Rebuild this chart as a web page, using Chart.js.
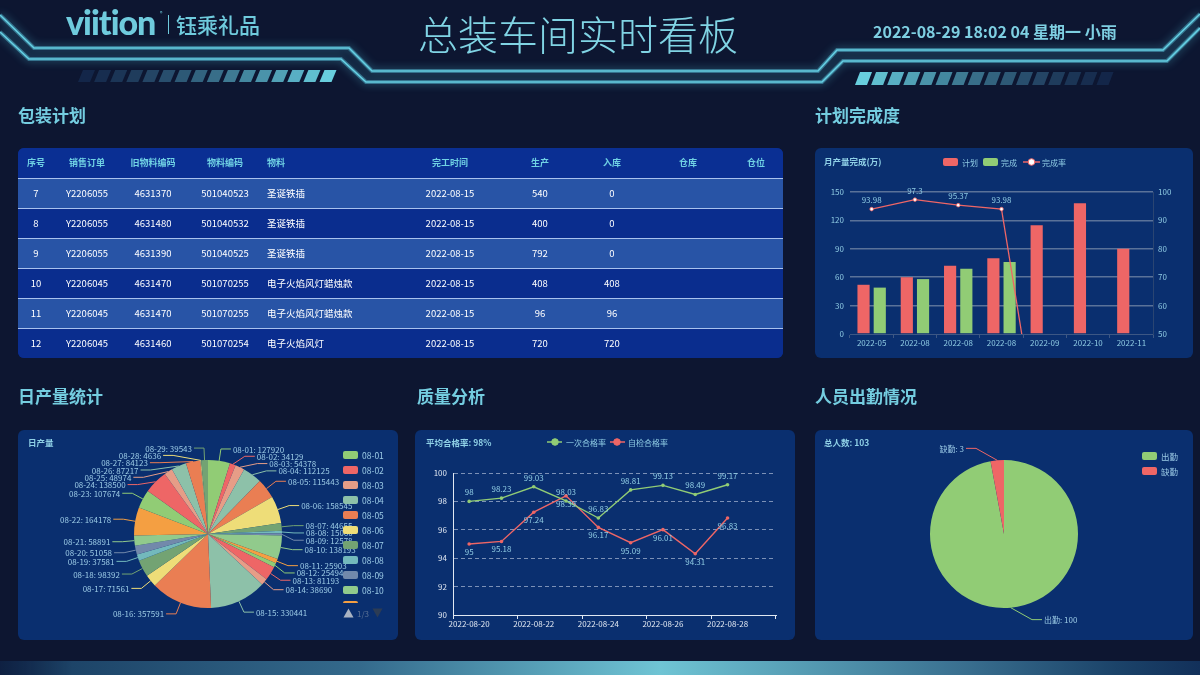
<!DOCTYPE html>
<html lang="zh-CN">
<head>
<meta charset="utf-8">
<title>总装车间实时看板</title>
<script src="https://cdn.jsdelivr.net/npm/chart.js@4.4.1/dist/chart.umd.min.js"></script>
<style>
html,body{margin:0;padding:0;background:#0d1631;}
#root{position:relative;width:1200px;height:675px;overflow:hidden;background:#0d1631;font-family:"Noto Sans CJK SC","Noto Sans",sans-serif;}
#deco{position:absolute;left:0;top:0;}
.txt{position:absolute;white-space:nowrap;}
.sec{position:absolute;white-space:nowrap;color:#74cde0;font-weight:bold;font-size:17px;line-height:17px;}
.ptitle{position:absolute;white-space:nowrap;color:#8fd0e6;font-weight:bold;font-size:8.5px;line-height:9px;}
.panel{position:absolute;background:#0a2f6f;border-radius:6px;overflow:hidden;}
.panel canvas{position:absolute;left:0;top:0;}
#table{background:#0a2d8e;}
.trow{position:absolute;left:0;width:100%;height:30px;}
.cell{position:absolute;top:0;height:30px;line-height:30px;font-size:9.5px;color:#ffffff;white-space:nowrap;}
.hcell{color:#70d2e4;font-weight:bold;font-size:9px;}
.sep{position:absolute;left:0;width:100%;height:1px;background:#a9c2ee;}
</style>
</head>
<body>
<div id="root">
  <canvas id="deco" width="1200" height="675"></canvas>
  <div class="txt" style="left:66px;top:5px;font-family:Lato,'Noto Sans',sans-serif;font-weight:900;font-size:34px;line-height:34px;color:#6fcbdd;letter-spacing:-1px;">viition</div>
  <div class="txt" style="left:160px;top:10px;font-size:5px;line-height:5px;color:#6fcbdd;">®</div>
  <div class="txt" style="left:168px;top:15px;width:1px;height:19px;background:#6fcbdd;"></div>
  <div class="txt" style="left:176px;top:14px;font-size:21px;line-height:21px;color:#6fcbdd;font-weight:500;">钰乘礼品</div>
  <div class="txt" style="left:418px;top:13px;font-size:40px;line-height:40px;color:#80d4e4;font-weight:300;">总装车间实时看板</div>
  <div class="txt" style="left:873px;top:23px;font-size:16px;line-height:16px;color:#7ecfe2;font-weight:bold;">2022-08-29 18:02 04 星期一 小雨</div>

  <div class="sec" style="left:18px;top:106px;">包装计划</div>
  <div class="sec" style="left:815px;top:106px;">计划完成度</div>
  <div class="sec" style="left:18px;top:387px;">日产量统计</div>
  <div class="sec" style="left:417px;top:387px;">质量分析</div>
  <div class="sec" style="left:815px;top:387px;">人员出勤情况</div>

  <div class="panel" id="table" style="left:18px;top:148px;width:765px;height:210px;"></div>

  <div class="panel" style="left:815px;top:148px;width:378px;height:210px;">
    <canvas id="barChart" width="378" height="210"></canvas>
    <div class="ptitle" style="left:9px;top:9px;">月产量完成(万)</div>
  </div>

  <div class="panel" style="left:18px;top:430px;width:380px;height:210px;">
    <canvas id="dayPie" width="380" height="210"></canvas>
    <div class="ptitle" style="left:10px;top:8px;">日产量</div>
  </div>

  <div class="panel" style="left:415px;top:430px;width:380px;height:210px;">
    <canvas id="qcLine" width="380" height="210"></canvas>
    <div class="ptitle" style="left:11px;top:8px;">平均合格率: 98%</div>
  </div>

  <div class="panel" style="left:815px;top:430px;width:378px;height:210px;">
    <canvas id="staffPie" width="378" height="210"></canvas>
    <div class="ptitle" style="left:9px;top:8px;">总人数: 103</div>
  </div>
</div>

<script>
// ================= DATA =================
const tableHeaders = ['序号','销售订单','旧物料编码','物料编码','物料','完工时间','生产','入库','仓库','仓位'];
const rowNo = [7, 8, 9, 10, 11, 12];
const salesOrders = ['Y2206055','Y2206055','Y2206055','Y2206045','Y2206045','Y2206045'];
const oldCodes = ['4631370','4631480','4631390','4631470','4631470','4631460'];
const materialCodes = ['501040523','501040532','501040525','501070255','501070255','501070254'];
const materialNames = ['圣诞铁插','圣诞铁插','圣诞铁插','电子火焰风灯蜡烛款','电子火焰风灯蜡烛款','电子火焰风灯'];
const finishDates = ['2022-08-15','2022-08-15','2022-08-15','2022-08-15','2022-08-15','2022-08-15'];
const producedQty = [540, 400, 792, 408, 96, 720];
const stockedQty = [0, 0, 0, 408, 96, 720];
const warehouses = ['', '', '', '', '', ''];
const binLocations = ['', '', '', '', '', ''];

const monthLabels = ['2022-05','2022-08','2022-08','2022-08','2022-09','2022-10','2022-11'];
const planValues = [52, 60, 72, 80, 115, 138, 90];
const doneValues = [49, 58, 69, 76, 0, 0, 0];
const rateValues = [93.98, 97.3, 95.37, 93.98, 0, 0, 0];

const dayLabels = ['08-01','08-02','08-03','08-04','08-05','08-06','08-07','08-08','08-09','08-10',
  '08-11','08-12','08-13','08-14','08-15','08-16','08-17','08-18','08-19','08-20',
  '08-21','08-22','08-23','08-24','08-25','08-26','08-27','08-28','08-29'];
const dayValues = [127920, 34129, 54378, 112125, 115443, 158545, 44655, 15060, 12578, 138193,
  25903, 25494, 81193, 38690, 330441, 357591, 71561, 98392, 37581, 51058,
  58891, 164178, 107674, 138500, 48974, 87217, 84123, 4636, 39543];

const qcDates = ['2022-08-20','2022-08-21','2022-08-22','2022-08-23','2022-08-24',
  '2022-08-25','2022-08-26','2022-08-27','2022-08-28','2022-08-29'];
const firstPassRate = [98, 98.23, 99.03, 98.03, 96.83, 98.81, 99.13, 98.49, 99.17, null];
const selfCheckRate = [95, 95.18, 97.24, 98.39, 96.17, 95.09, 96.01, 94.31, 96.83, null];

const staffLabels = ['出勤', '缺勤'];
const staffValues = [100, 3];

// ================= STYLE =================
const FONT = '"Noto Sans CJK SC","Noto Sans",sans-serif';
const palette = ['#91cc75','#ee6666','#e69d87','#8dc1a9','#ea7e53','#eedd78','#73a373','#73b9bc','#7289ab','#91ca8c','#f49f42'];
const LABEL_BLUE = '#8fcbe3';
const AXIS_WHITE = '#e1e8f2';

Chart.defaults.font.family = FONT;
Chart.defaults.animation = false;
Chart.defaults.responsive = false;
Chart.defaults.devicePixelRatio = 1;
Chart.defaults.events = [];
Chart.defaults.plugins.legend.display = false;
Chart.defaults.plugins.tooltip.enabled = false;

// ================= DECORATION =================
(function drawDeco() {
  const c = document.getElementById('deco').getContext('2d');
  const upper = [[0,15],[34,48],[349,48],[372,71],[818,71],[837,50],[1163,50],[1200,14]];
  const lower = [[0,32],[29,59],[341,59],[366,82],[822,82],[843,61],[1167,61],[1200,28]];
  function poly(pts) { c.beginPath(); pts.forEach((p,i)=> i? c.lineTo(p[0],p[1]) : c.moveTo(p[0],p[1])); }
  [upper, lower].forEach(pts => {
    c.save();
    c.shadowColor = 'rgba(90,210,235,0.9)'; c.shadowBlur = 8;
    c.strokeStyle = 'rgba(90,200,225,0.45)'; c.lineWidth = 4; poly(pts); c.stroke();
    c.restore();
    c.save();
    c.strokeStyle = '#66d0e4'; c.lineWidth = 1.6; poly(pts); c.stroke();
    c.restore();
  });
  function stripes(x0, y0, y1, n, pitch, w, skew, bright) {
    for (let i = 0; i < n; i++) {
      const t = bright === 'right' ? i/(n-1) : 1 - i/(n-1);
      const r = Math.round(26 + t*(104-26)), g = Math.round(52 + t*(206-52)), b = Math.round(92 + t*(222-92));
      c.fillStyle = `rgba(${r},${g},${b},${0.55 + 0.45*t})`;
      const x = x0 + i*pitch;
      c.beginPath();
      c.moveTo(x + skew, y0); c.lineTo(x + skew + w, y0); c.lineTo(x + w, y1); c.lineTo(x, y1); c.closePath();
      c.fill();
    }
  }
  stripes(78, 70, 82, 16, 16.1, 12, 5, 'right');
  stripes(855, 72, 85, 16, 16.1, 12, 5, 'left');
  const g = c.createLinearGradient(0, 0, 1200, 0);
  g.addColorStop(0, 'rgba(16,40,78,0.6)');
  g.addColorStop(0.06, '#1d4468');
  g.addColorStop(0.3, '#346a8c');
  g.addColorStop(0.55, '#6fc4d4');
  g.addColorStop(0.8, '#3a7090');
  g.addColorStop(0.93, '#1b4369');
  g.addColorStop(1, '#12305a');
  c.fillStyle = g;
  c.fillRect(0, 661, 1200, 14);
})();

// ================= TABLE =================
(function buildTable() {
  const tbl = document.getElementById('table');
  const colLayout = [{c:18},{c:69},{c:135},{c:207},{l:249},{c:432},{c:522},{c:594},{c:670},{c:738}];
  const columns = [rowNo, salesOrders, oldCodes, materialCodes, materialNames, finishDates, producedQty, stockedQty, warehouses, binLocations];
  function addCell(row, text, lay, cls) {
    const d = document.createElement('div');
    d.className = 'cell' + (cls ? ' ' + cls : '');
    d.textContent = text;
    if (lay.c !== undefined) { d.style.left = (lay.c - 60) + 'px'; d.style.width = '120px'; d.style.textAlign = 'center'; }
    else { d.style.left = lay.l + 'px'; }
    row.appendChild(d);
  }
  const head = document.createElement('div');
  head.className = 'trow'; head.style.top = '0px'; head.style.background = '#0a2f93';
  tableHeaders.forEach((h, i) => addCell(head, h, colLayout[i], 'hcell'));
  tbl.appendChild(head);
  rowNo.forEach((_, r) => {
    const row = document.createElement('div');
    row.className = 'trow';
    row.style.top = (30 + r*30) + 'px';
    row.style.background = r % 2 === 0 ? '#2854a6' : '#0a2d8e';
    columns.forEach((col, i) => addCell(row, String(col[r]), colLayout[i]));
    tbl.appendChild(row);
  });
  for (let k = 0; k <= rowNo.length; k++) {
    const s = document.createElement('div');
    s.className = 'sep'; s.style.top = (29.5 + k*30) + 'px';
    tbl.appendChild(s);
  }
})();

// ================= PLUGINS =================
const valueLabelPlugin = {
  id: 'valueLabels',
  afterDatasetsDraw(chart) {
    const ctx = chart.ctx, area = chart.chartArea;
    chart.data.datasets.forEach((ds, di) => {
      const cfg = ds.valueLabel; if (!cfg) return;
      const meta = chart.getDatasetMeta(di);
      ctx.save();
      ctx.font = '8px ' + FONT; ctx.fillStyle = cfg.color;
      ctx.textAlign = 'center'; ctx.textBaseline = 'middle';
      meta.data.forEach((el, i) => {
        const v = ds.data[i];
        if (v === null || v === undefined) return;
        if (el.y < area.top - 1 || el.y > area.bottom + 1) return;
        const y = cfg.side === 'bottom' ? el.y + cfg.offset : el.y - cfg.offset;
        ctx.fillText(String(v), el.x, y);
      });
      ctx.restore();
    });
  }
};

function makeLegend(cfg) {
  return {
    id: 'customLegend',
    afterDraw(chart) {
      const ctx = chart.ctx;
      ctx.save();
      if (cfg.clipBottom) { ctx.beginPath(); ctx.rect(0, 0, chart.width, cfg.clipBottom); ctx.clip(); }
      ctx.font = cfg.fontSize + 'px ' + FONT;
      ctx.textBaseline = 'middle'; ctx.textAlign = 'left';
      cfg.items.forEach(it => {
        const y = it.y;
        if (it.type === 'rect') {
          ctx.fillStyle = it.color;
          ctx.beginPath(); ctx.roundRect(it.x, y - 4, 15, 8, 2); ctx.fill();
        } else {
          ctx.strokeStyle = it.color; ctx.lineWidth = 1.5;
          ctx.beginPath(); ctx.moveTo(it.x, y); ctx.lineTo(it.x + it.w, y); ctx.stroke();
          ctx.beginPath(); ctx.arc(it.cx, y, 3.3, 0, Math.PI*2);
          ctx.fillStyle = it.fill; ctx.fill();
          ctx.lineWidth = 1; ctx.strokeStyle = it.color; ctx.stroke();
        }
        if (!cfg.clipBottom || y + 3 < cfg.clipBottom) {
          ctx.fillStyle = cfg.textColor;
          ctx.fillText(it.text, it.tx, y + 0.5);
        }
      });
      ctx.restore();
      if (cfg.pager) {
        const p = cfg.pager;
        ctx.save();
        ctx.fillStyle = '#a9b3c2';
        ctx.beginPath(); ctx.moveTo(p.upX, p.y - 4.5); ctx.lineTo(p.upX + 5, p.y + 4.5); ctx.lineTo(p.upX - 5, p.y + 4.5); ctx.closePath(); ctx.fill();
        ctx.fillStyle = '#2c3c55';
        ctx.beginPath(); ctx.moveTo(p.downX - 5, p.y - 4.5); ctx.lineTo(p.downX + 5, p.y - 4.5); ctx.lineTo(p.downX, p.y + 4.5); ctx.closePath(); ctx.fill();
        ctx.fillStyle = '#5f7596'; ctx.font = '8px ' + FONT; ctx.textAlign = 'center'; ctx.textBaseline = 'middle';
        ctx.fillText(p.text, (p.upX + p.downX)/2, p.y + 0.5);
        ctx.restore();
      }
    }
  };
}

function makePieLabels(cfg) {
  return {
    id: 'pieLabels',
    afterDatasetsDraw(chart) {
      const ctx = chart.ctx;
      const meta = chart.getDatasetMeta(0);
      const ds = chart.data.datasets[0];
      const items = [];
      meta.data.forEach((arc, i) => {
        const a = (arc.startAngle + arc.endAngle) / 2;
        const r = arc.outerRadius, cx = arc.x, cy = arc.y;
        const cos = Math.cos(a), sin = Math.sin(a);
        const dir = cos < 0 ? -1 : 1;
        const R = r + cfg.len;
        items.push({
          i, cx, cy, r, dir,
          sx: cx + r*cos, sy: cy + r*sin,
          ex: cx + R*cos, y: cy + R*sin,
          color: ds.backgroundColor[i % ds.backgroundColor.length],
          text: chart.data.labels[i] + ': ' + ds.data[i]
        });
      });
      if (!items.length) return;
      const cx = items[0].cx, cy = items[0].cy, r = items[0].r;
      [-1, 1].forEach(dir => {
        const list = items.filter(it => it.dir === dir).sort((p, q) => p.y - q.y);
        if (list.length < 2) return;
        let shifted = false, last = -Infinity;
        list.forEach(it => { if (it.y < last + cfg.h) { it.y = last + cfg.h; shifted = true; } last = it.y; });
        const bottom = chart.height - 4;
        if (list[list.length - 1].y > bottom) {
          let lim = bottom;
          for (let k = list.length - 1; k >= 0; k--) { if (list[k].y > lim) { list[k].y = lim; } lim = list[k].y - cfg.h; }
          shifted = true;
        }
        if (!shifted) return;
        const rA = r + cfg.len;
        const semis = [{list: [], maxY: 0, rB: rA}, {list: [], maxY: 0, rB: rA}];
        list.forEach(it => {
          const semi = it.y > cy ? semis[1] : semis[0];
          const dy = Math.abs(it.y - cy);
          if (dy >= semi.maxY) {
            const dx = it.ex - cx;
            semi.rB = Math.abs(dx) < rA ? Math.sqrt(dy*dy / (1 - dx*dx/(rA*rA))) : rA;
            semi.maxY = dy;
          }
          semi.list.push(it);
        });
        semis.forEach(semi => semi.list.forEach(it => {
          const dy = Math.abs(it.y - cy);
          const t = 1 - dy*dy/(semi.rB*semi.rB);
          it.ex = cx + Math.sqrt(Math.max(0, t)) * rA * dir;
        }));
      });
      ctx.save();
      ctx.font = cfg.fontSize + 'px ' + FONT;
      ctx.textBaseline = 'middle';
      items.forEach(it => {
        let ex = it.ex;
        if (cfg.minDx && Math.abs(ex - it.cx) < cfg.minDx) ex = it.cx + it.dir * cfg.minDx;
        const endX = ex + it.dir * cfg.len2;
        ctx.strokeStyle = it.color; ctx.lineWidth = 1;
        ctx.beginPath(); ctx.moveTo(it.sx, it.sy); ctx.lineTo(ex, it.y); ctx.lineTo(endX, it.y); ctx.stroke();
        ctx.fillStyle = cfg.color;
        ctx.textAlign = it.dir > 0 ? 'left' : 'right';
        ctx.fillText(it.text, endX + it.dir * 2, it.y + 0.5);
      });
      ctx.restore();
    }
  };
}

// ================= BAR + LINE (计划完成度) =================
new Chart(document.getElementById('barChart'), {
  data: {
    labels: monthLabels,
    datasets: [
      { type: 'line', label: '完成率', data: rateValues, yAxisID: 'y1', order: 0,
        borderColor: '#ee6666', borderWidth: 1.3, tension: 0,
        pointRadius: 1.8, pointBackgroundColor: '#ffffff', pointBorderColor: '#ee6666', pointBorderWidth: 0.8,
        valueLabel: { side: 'top', offset: 9, color: LABEL_BLUE } },
      { type: 'bar', label: '计划', data: planValues, yAxisID: 'y', order: 1,
        backgroundColor: '#ee6666', categoryPercentage: 0.75, barPercentage: 0.75 },
      { type: 'bar', label: '完成', data: doneValues, yAxisID: 'y', order: 1,
        backgroundColor: '#91cc75', categoryPercentage: 0.75, barPercentage: 0.75 }
    ]
  },
  options: {
    layout: { padding: { top: 44, right: 0, left: 0, bottom: 0 } },
    scales: {
      x: { type: 'category', offset: true,
        grid: { drawOnChartArea: false, drawTicks: true, tickLength: 4, tickColor: '#3d5784', offset: true },
        border: { display: true, color: '#3d5784' },
        ticks: { color: LABEL_BLUE, font: { size: 8 }, padding: 0, autoSkip: false, maxRotation: 0 },
        afterFit: s => { s.height = 24; } },
      y: { position: 'left', min: 0, max: 150,
        ticks: { stepSize: 30, color: LABEL_BLUE, font: { size: 8 }, padding: 6 },
        grid: { color: c => (c.tick && c.tick.value === 0) ? 'rgba(0,0,0,0)' : '#5a7299', lineWidth: 1.5, drawTicks: false },
        border: { display: false },
        afterFit: s => { s.width = 35; } },
      y1: { position: 'right', min: 50, max: 100,
        ticks: { stepSize: 10, color: LABEL_BLUE, font: { size: 8 }, padding: 5 },
        grid: { drawOnChartArea: false, drawTicks: false },
        border: { display: true, color: '#2a4572' },
        afterFit: s => { s.width = 40; } }
    }
  },
  plugins: [valueLabelPlugin, makeLegend({
    fontSize: 8, textColor: LABEL_BLUE,
    items: [
      { type: 'rect', x: 128, y: 14, color: '#ee6666', text: '计划', tx: 147 },
      { type: 'rect', x: 168, y: 14, color: '#91cc75', text: '完成', tx: 186 },
      { type: 'line', x: 208, w: 17, cx: 216.5, y: 14, color: '#ee6666', fill: '#ffffff', text: '完成率', tx: 227 }
    ]
  })]
});

// ================= DAILY PIE (日产量统计) =================
const dayColors = dayLabels.map((_, i) => palette[i % palette.length]);
const dayLegendItems = dayLabels.slice(0, 11).map((lab, i) => ({
  type: 'rect', x: 325, y: 25 + i*15, color: dayColors[i], text: lab, tx: 344
}));
new Chart(document.getElementById('dayPie'), {
  type: 'pie',
  data: { labels: dayLabels, datasets: [{ data: dayValues, backgroundColor: palette, borderWidth: 0 }] },
  options: { layout: { padding: { left: 116, right: 116, top: 30, bottom: 32 } } },
  plugins: [
    makePieLabels({ len: 12, len2: 10, h: 7.3, fontSize: 8, color: '#9ccbe6' }),
    makeLegend({ fontSize: 8.5, textColor: '#9ccbe6', items: dayLegendItems, clipBottom: 173,
      pager: { upX: 330.5, downX: 359.5, y: 183, text: '1/3' } })
  ]
});

// ================= QUALITY LINE (质量分析) =================
new Chart(document.getElementById('qcLine'), {
  type: 'line',
  data: {
    labels: qcDates,
    datasets: [
      { label: '一次合格率', data: firstPassRate, borderColor: '#91cc75', backgroundColor: '#91cc75',
        borderWidth: 1.4, tension: 0, pointRadius: 1.8, pointBorderWidth: 0, pointBackgroundColor: '#91cc75',
        valueLabel: { side: 'top', offset: 9, color: LABEL_BLUE } },
      { label: '自检合格率', data: selfCheckRate, borderColor: '#ee6666', backgroundColor: '#ee6666',
        borderWidth: 1.4, tension: 0, pointRadius: 1.8, pointBorderWidth: 0, pointBackgroundColor: '#ee6666',
        valueLabel: { side: 'bottom', offset: 8, color: LABEL_BLUE } }
    ]
  },
  options: {
    layout: { padding: { top: 43, right: 19, left: 0, bottom: 0 } },
    scales: {
      x: { type: 'category', offset: true,
        grid: { drawOnChartArea: false, drawTicks: true, tickLength: 4, offset: true,
          tickColor: c => (c.index === undefined || c.index % 2 === 0) ? AXIS_WHITE : 'rgba(0,0,0,0)' },
        border: { display: true, color: AXIS_WHITE },
        ticks: { color: AXIS_WHITE, font: { size: 8 }, padding: 0, autoSkip: false, maxRotation: 0,
          callback: (v, i) => (i % 2 === 0 ? qcDates[i] : '') },
        afterFit: s => { s.height = 25; } },
      y: { min: 90, max: 100,
        ticks: { stepSize: 2, color: AXIS_WHITE, font: { size: 8 }, padding: 6 },
        grid: { color: c => (c.tick && c.tick.value === 90) ? 'rgba(0,0,0,0)' : 'rgba(200,212,232,0.6)', lineWidth: 1, drawTicks: false },
        border: { display: true, color: AXIS_WHITE, dash: [4, 3] },
        afterFit: s => { s.width = 38; } }
    }
  },
  plugins: [valueLabelPlugin, makeLegend({
    fontSize: 8, textColor: LABEL_BLUE,
    items: [
      { type: 'line', x: 132, w: 15, cx: 140, y: 12, color: '#91cc75', fill: '#91cc75', text: '一次合格率', tx: 151 },
      { type: 'line', x: 195, w: 15, cx: 202, y: 12, color: '#ee6666', fill: '#ee6666', text: '自检合格率', tx: 213 }
    ]
  })]
});

// ================= STAFF PIE (人员出勤情况) =================
const staffColors = ['#91cc75', '#ee6666'];
new Chart(document.getElementById('staffPie'), {
  type: 'pie',
  data: { labels: staffLabels, datasets: [{ data: staffValues, backgroundColor: staffColors, borderWidth: 0 }] },
  options: { layout: { padding: { left: 115, right: 115, top: 30, bottom: 32 } } },
  plugins: [
    makePieLabels({ len: 12, len2: 10, h: 7.3, fontSize: 8, color: '#9ccbe6', minDx: 28 }),
    makeLegend({ fontSize: 8.5, textColor: '#9ccbe6', items: staffLabels.map((lab, i) => ({
      type: 'rect', x: 327, y: 26 + i*15, color: staffColors[i], text: lab, tx: 346 })) })
  ]
});
</script>
</body>
</html>
